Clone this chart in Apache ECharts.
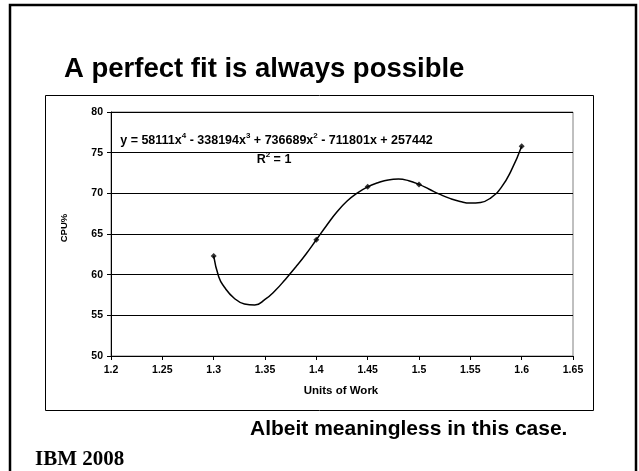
<!DOCTYPE html>
<html>
<head>
<meta charset="utf-8">
<script src="https://cdn.jsdelivr.net/npm/echarts/dist/echarts.min.js"></script>
<style>
  html, body { margin: 0; padding: 0; background: #fff; }
  #chart { width: 639px; height: 471px; }
</style>
</head>
<body>
<div id="chart"></div>
<script>
// Measured points: units of work vs CPU%
const workUnits = [1.3, 1.4, 1.45, 1.5, 1.6];
const cpuPct = [62.3, 64.3, 70.8, 71.1, 75.8];

// 4th-order polynomial trend line through the points
const trendX = [1.300, 1.305, 1.310, 1.320, 1.330, 1.340, 1.350, 1.360, 1.370, 1.380,
                1.390, 1.400, 1.410, 1.420, 1.430, 1.440, 1.450, 1.460, 1.470, 1.480,
                1.490, 1.500, 1.510, 1.520, 1.530, 1.540, 1.550, 1.560, 1.570, 1.580,
                1.590, 1.600];
const trendY = [62.3, 59.7, 58.55, 57.1, 56.4, 56.27, 56.95, 58.05, 59.45, 60.95,
                62.55, 64.3, 66.05, 67.7, 69.05, 70.05, 70.8, 71.3, 71.65, 71.75,
                71.55, 71.1, 70.5, 69.9, 69.38, 69.0, 68.8, 68.88, 69.45, 70.7,
                72.85, 75.8];

// Axis tick labels
const xTickLabels = ['1.2', '1.25', '1.3', '1.35', '1.4', '1.45', '1.5', '1.55', '1.6', '1.65'];
const yTickLabels = ['50', '55', '60', '65', '70', '75', '80'];

const SANS = '"Liberation Sans", Arial, Helvetica, sans-serif';
const SERIF = '"Liberation Serif", "Times New Roman", serif';

const chart = echarts.init(document.getElementById('chart'), null, { renderer: 'canvas' });

function txt(text, x, y, size, opts) {
  opts = opts || {};
  return {
    type: 'text',
    silent: true,
    rotation: opts.rotation || 0,
    x: x, y: y,
    style: {
      text: text,
      x: 0, y: 0,
      fill: '#000',
      fontFamily: opts.family || SANS,
      fontWeight: 'bold',
      fontSize: size,
      align: opts.align || 'left',
      textAlign: opts.align || 'left',
      verticalAlign: 'middle',
      textVerticalAlign: 'middle',
      rich: opts.rich
    }
  };
}

// Equation styles: main text plus raised exponents
const eqRich = {
  m: { fontFamily: SANS, fontWeight: 'bold', fontSize: 12.5, lineHeight: 18, fill: '#000', color: '#000' },
  s: { fontFamily: SANS, fontWeight: 'bold', fontSize: 8, lineHeight: 8, padding: [0, 0, 10, 0], fill: '#000', color: '#000' }
};

chart.setOption({
  animation: false,
  backgroundColor: '#fff',
  grid: {
    left: 111, right: 66, top: 112, bottom: 115,
    show: true, borderColor: '#808080', borderWidth: 1, backgroundColor: '#fff'
  },
  xAxis: {
    type: 'value',
    min: 1.2, max: 1.65, interval: 0.05,
    axisLine: { show: true, onZero: false, lineStyle: { color: '#000', width: 1 } },
    axisTick: { show: true, inside: false, length: 4, lineStyle: { color: '#000' } },
    axisLabel: {
      margin: 9,
      color: '#000', fontFamily: SANS, fontWeight: 'bold', fontSize: 10.5,
      formatter: v => xTickLabels[Math.round((v - 1.2) / 0.05)]
    },
    splitLine: { show: false }
  },
  yAxis: {
    type: 'value',
    min: 50, max: 80, interval: 5,
    axisLine: { show: true, onZero: false, lineStyle: { color: '#000', width: 1 } },
    axisTick: { show: true, inside: false, length: 4, lineStyle: { color: '#000' } },
    axisLabel: {
      margin: 8,
      color: '#000', fontFamily: SANS, fontWeight: 'bold', fontSize: 10.5,
      formatter: v => yTickLabels[Math.round((v - 50) / 5)]
    },
    splitLine: { show: true, lineStyle: { color: '#000', width: 1 } }
  },
  series: [
    {
      name: 'Poly. (CPU%)',
      type: 'line',
      data: trendX.map((x, i) => [x, trendY[i]]),
      showSymbol: false,
      smooth: 0.5,
      lineStyle: { color: '#000', width: 1.5 },
      z: 2
    },
    {
      name: 'CPU%',
      type: 'scatter',
      data: workUnits.map((x, i) => [x, cpuPct[i]]),
      symbol: 'diamond',
      symbolSize: 6,
      itemStyle: { color: '#000' },
      z: 3
    }
  ],
  graphic: [
    { type: 'rect', silent: true, z: 10,
      shape: { x: 10, y: 5, width: 626, height: 480 },
      style: { fill: 'none', stroke: '#000', lineWidth: 2.5 } },
    { type: 'rect', silent: true, z: 10,
      shape: { x: 45.5, y: 95.5, width: 548, height: 315 },
      style: { fill: 'none', stroke: '#000', lineWidth: 1 } },
    txt('A perfect fit is always possible', 64, 69.5, 27.5),
    txt('{m|y = 58111x}{s|4}{m| - 338194x}{s|3}{m| + 736689x}{s|2}{m| - 711801x + 257442}', 276.5, 141, 12.5,
        { align: 'center', rich: eqRich }),
    txt('{m|R}{s|2}{m| = 1}', 274, 160, 12.5, { align: 'center', rich: eqRich }),
    txt('CPU%', 64.5, 228, 9.5, { align: 'center', rotation: Math.PI / 2 }),
    txt('Units of Work', 341, 390.5, 11.5, { align: 'center' }),
    txt('Albeit meaningless in this case.', 250, 429, 21),
    txt('IBM 2008', 35, 460, 21, { family: SERIF })
  ]
});
</script>
</body>
</html>
